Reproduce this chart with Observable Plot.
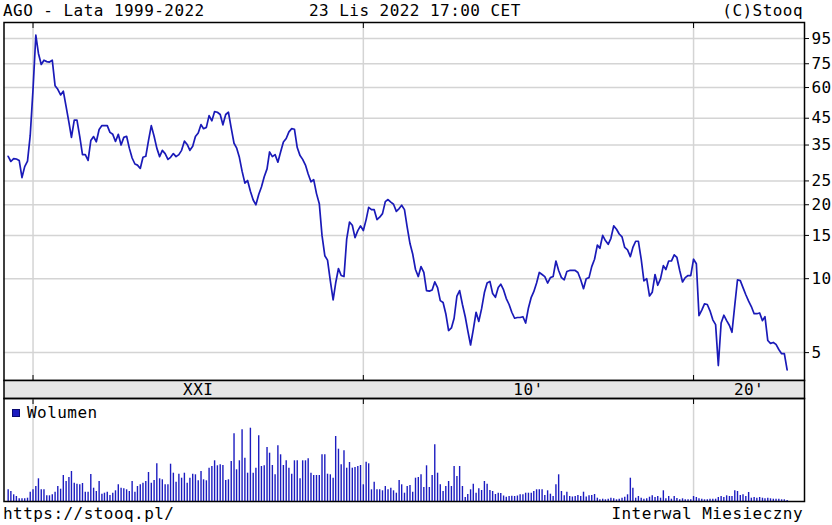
<!DOCTYPE html>
<html><head><meta charset="utf-8">
<script src="https://cdn.jsdelivr.net/npm/d3@7"></script>
<script src="https://cdn.jsdelivr.net/npm/@observablehq/plot@0.6"></script>
<style>
html,body{margin:0;padding:0;background:#fff;}
#c{position:relative;width:832px;height:525px;overflow:hidden;font-family:"DejaVu Sans Mono",monospace;font-size:16px;letter-spacing:0.45px;color:#000;background:#fff}
.t{position:absolute;white-space:pre;line-height:16px}
.p{position:absolute;left:0}
.sq{position:absolute;width:8px;height:8px;background:#1c1cc0;border:1px solid #0a0a70;box-sizing:border-box}
</style></head><body><div id="c"></div>
<script>
// ---- data ----
const startYear = 1999, startMonth = 4; // first monthly point: 1999-04
const price = [31.5,30.0,30.8,30.7,30.3,25.8,28.6,30.1,38.3,59,
98,82.6,74.5,77.5,76.5,76.2,77.5,61,59,56,
58,50.2,43.3,37.6,44.2,44.2,37.9,32,32,30.3,
36.5,37.9,36.1,40.5,42,42,42,39.4,38.7,36.2,
38.7,35,37.6,38,34,31,29.3,29.0,28.1,31.2,
31.5,36.5,42,38,34,31.4,33.3,32.3,30.6,31.2,
32.3,31.4,32,33.3,36.3,35.2,33.3,34.6,37.9,39.2,
42.4,40.8,41.3,46.1,43.9,47.9,47.6,46.6,42.3,46.6,
47.6,41,35.6,34.1,31.2,27.4,24.5,25.1,22.7,20.9,
20.0,22,23.6,26,28,32.8,31.4,32,29.8,32.8,
36,37.2,39.6,40.8,40.6,34.2,31.7,30.6,29,26.7,
24.8,25.3,22.2,20.2,15,12.4,11.9,9.8,8.2,9.6,
11,10.3,10.2,14.5,17.0,16.5,14.7,15.7,16.4,15.7,
17.4,19.5,19.1,19.1,17.4,17.8,18.4,20.6,21,20.5,
20.1,18.8,19.3,19.9,19.1,16.2,13.9,12.6,10.9,10.2,
11.2,10.6,8.94,8.9,9.0,9.7,9.2,8.14,8.0,7.2,
6.15,6.3,6.9,8.5,8.94,7.85,7.0,6.15,5.37,6.2,
7.3,6.7,7.55,8.78,9.6,9.75,8.7,8.4,9.2,9.5,
9.0,8.3,7.85,7.3,6.9,6.95,6.95,7.0,6.6,7.6,
8.4,8.85,9.6,10.6,10.4,10.2,9.6,10.1,10.2,11.8,
10.8,10.1,9.9,10.7,10.8,10.8,10.8,10.6,9.9,9.1,
10.0,10.1,11.2,12.0,13.7,13.3,15.0,14.3,13.8,14.6,
16.4,15.9,15.2,14.8,13.4,13.1,12.3,13.4,14.2,14.2,
12.0,9.8,10.0,8.5,8.8,10.4,9.4,10.0,11.3,10.9,
11.8,11.8,12.5,12.2,10.8,9.7,10.1,10.3,10.3,12.0,
11.5,7.07,7.45,7.9,7.85,7.4,6.8,6.5,4.43,6.6,
7.1,6.75,6.45,6.05,7.8,9.9,9.82,9.2,8.6,8.1,
7.7,7.2,7.2,7.25,6.75,7.0,5.6,5.45,5.5,5.4,
5.15,4.95,4.95,4.25];
const volume = [11.7,10,6.7,5,2.7,2.7,2.7,3.3,9.3,11.7,
15,22.7,11.7,11.7,5.7,5.7,6.7,9.3,15,12.3,
26,20,24,30,18.3,17.3,16.7,18,9.3,9.3,
27,13.3,10,20,7.3,8.3,9.3,6,8.3,10.7,
16.7,13.3,12.7,11.7,10,20,9.3,15,16.7,18.3,
20,29,18.3,21,37.7,22.7,21.7,16.7,16.7,37.3,
28.3,19.3,27.3,23.3,28.3,18.3,23.3,27.3,26.7,20.7,
30,21.7,20.7,33.3,35,40.7,35.7,36.7,36,21,
21.7,40,67.7,31.7,40.7,71.7,43.3,28.3,73.3,28.3,
33.3,65.7,35,35.7,54,48.3,36,26.7,55.7,46.7,
36,40.7,33.3,27.3,40.7,40.7,22.7,40.7,40.7,42.7,
28.3,26,26,26,46.7,46.7,27.3,26.7,23.3,65,
52.3,36.7,50.7,33.3,39,33.3,34,35,36,16.7,
39.3,37.7,11.7,19.3,11.7,11.7,10.7,15,11.7,13.3,
10.7,8.3,21,16.7,8.3,15,16,9.3,23.3,24,
26.7,14,35.7,14,26,56.7,28.3,16.7,10,15,
20,15,35,25,35,15,4,7,11.7,17.3,
8.3,12.7,11,20,17.3,11,10,7,8.3,8,
5.5,4.3,5,5.3,5,5.5,6.7,6.7,8.3,8.3,
8.3,10,11.7,11.7,11.7,6,10.7,7.3,5,16.7,
26.7,10,5.7,9.3,5,4.5,5,6,5,9.3,
4.5,5.7,6,7,3.3,1.7,2.3,1.7,2.3,3.3,
2.7,1.7,2.3,3.3,4.3,6.7,23.3,13.3,3.3,5,
3.3,2.3,2.7,4.3,5.7,4,5,3.3,10.7,2.7,
5,2.3,5,3,1.7,2.7,1.7,1.7,1.7,5,
4,2.7,2.3,1.7,1.7,2.3,2.3,2.3,4,5,
4,5.7,5,5,10.7,10,6,6.7,5,9,
3.3,4,3.3,4,3.3,2.7,3.3,2.7,2.3,2.3,
2.3,1.7,1.7,1];
const yTicks = [5,10,15,20,25,35,45,60,75,95];
const decadeYears = [2000,2010,2020];
const decadeLabels = ["XXI","10'","20'"];
const titleLeft = "AGO - Lata 1999-2022";
const titleMid = "23 Lis 2022 17:00 CET";
const titleRight = "(C)Stooq";
const footLeft = "https://stooq.pl/";
const footRight = "Interwal Miesieczny";
const legendLabel = "Wolumen";

// ---- build ----
const rows = price.map((v,i)=>({date:new Date(Date.UTC(startYear, startMonth-1+i, 1)), close:v, vol:volume[i]}));
const xDomain = [new Date(Date.UTC(1999,1,14)), new Date(Date.UTC(2023,4,12))];
const decades = decadeYears.map(y=>new Date(Date.UTC(y,0,1)));
const bandPos = decades.map((d,i)=>new Date((+d + +(i<decades.length-1 ? decades[i+1] : xDomain[1]))/2));

const W = 832, ML = 3.5, MR = 28;
const LINE = "#1a1ab8", GRID = "#d4d4d4";
const font = {fontFamily:'"DejaVu Sans Mono", monospace', fontSize:"16px", letterSpacing:"0.45px", background:"transparent", overflow:"visible", color:"#000"};
const xs = {type:"utc", domain:xDomain, axis:null};
const noLabel = ()=>"";

const c = document.getElementById("c");
function place(el, top){ el.classList.add("p"); el.style.top = top+"px"; c.appendChild(el); }
function txt(s, css){ const d=document.createElement("div"); d.className="t"; d.textContent=s; Object.assign(d.style, css); c.appendChild(d); return d; }

const main = Plot.plot({
  width: W, height: 360, marginTop: 2, marginBottom: 0, marginLeft: ML, marginRight: MR,
  style: font, x: xs,
  y: {type:"log", domain:[3.85,110.4], axis:null},
  marks: [
    Plot.ruleY(yTicks, {stroke:GRID, strokeWidth:1.5}),
    Plot.ruleX(decades, {stroke:GRID, strokeWidth:1.5}),
    Plot.line(rows, {x:"date", y:"close", stroke:LINE, strokeWidth:1.7}),
    Plot.axisY(yTicks, {anchor:"right", tickSize:4, label:null, fill:"none"}),
    Plot.text(yTicks, {y:d=>d, text:d=>String(d), frameAnchor:"right", textAnchor:"start", dx:7, fill:"#000"}),
    Plot.axisX(decades, {anchor:"top", tickSize:5, dy:5, tickFormat:noLabel, label:null}),
    Plot.axisX(decades, {anchor:"bottom", tickSize:5, dy:-5, tickFormat:noLabel, label:null}),
    Plot.frame({stroke:"#000", strokeWidth:1.5})
  ]
});
place(main, 20);

const band = Plot.plot({
  width: W, height: 20, marginTop: 1, marginBottom: 1, marginLeft: ML, marginRight: MR,
  style: font, x: xs,
  marks: [
    Plot.frame({fill:"#e6e6e6", stroke:"#000", strokeWidth:1.5}),
    Plot.text(decadeLabels, {x:(d,i)=>bandPos[i], frameAnchor:"middle", text:d=>d, fill:"#000"})
  ]
});
place(band, 379);

const vol = Plot.plot({
  width: W, height: 106, marginTop: 1, marginBottom: 2, marginLeft: ML, marginRight: MR,
  style: font, x: xs,
  y: {domain:[0,103], axis:null},
  marks: [
    Plot.ruleX(decades, {stroke:GRID, strokeWidth:1.5}),
    Plot.ruleX(rows, {x:"date", y:"vol", stroke:"#1c1cc0", strokeWidth:1.4}),
    Plot.axisX(decades, {anchor:"top", tickSize:5, dy:5, tickFormat:noLabel, label:null}),
    Plot.frame({stroke:"#000", strokeWidth:1.5})
  ]
});
place(vol, 397);

txt(titleLeft, {left:"3px", top:"3px"});
txt(titleMid, {left:"309px", top:"3px"});
txt(titleRight, {right:"29px", top:"3px"});
txt(footLeft, {left:"3px", top:"506px"});
txt(footRight, {right:"29px", top:"506px"});
const sq = document.createElement("div"); sq.className="sq"; Object.assign(sq.style,{left:"12px", top:"409px"}); c.appendChild(sq);
txt(legendLabel, {left:"27px", top:"405px"});
</script></body></html>
